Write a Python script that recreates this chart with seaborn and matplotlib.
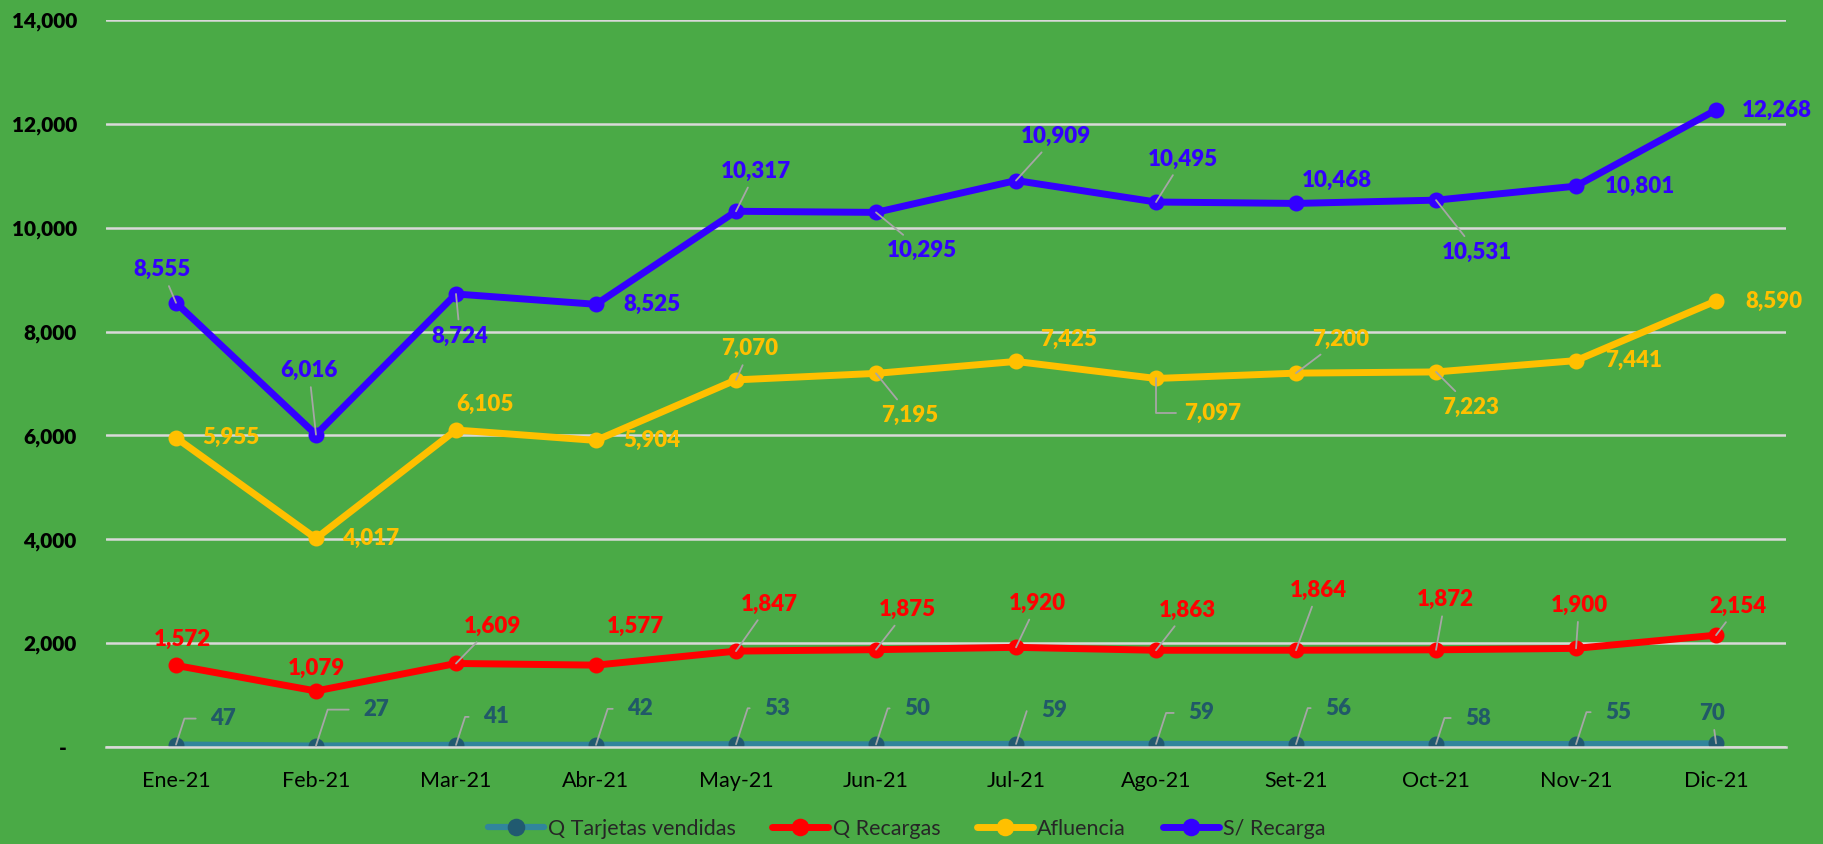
import matplotlib
matplotlib.use("Agg")
import matplotlib.pyplot as plt
import seaborn as sns
from matplotlib.ticker import FixedLocator, FuncFormatter

# Data
meses = ["Ene-21", "Feb-21", "Mar-21", "Abr-21", "May-21", "Jun-21",
         "Jul-21", "Ago-21", "Set-21", "Oct-21", "Nov-21", "Dic-21"]
tarjetas = [47, 27, 41, 42, 53, 50, 59, 59, 56, 58, 55, 70]
recargas = [1572, 1079, 1609, 1577, 1847, 1875, 1920, 1863, 1864, 1872, 1900, 2154]
afluencia = [5955, 4017, 6105, 5904, 7070, 7195, 7425, 7097, 7200, 7223, 7441, 8590]
soles = [8555, 6016, 8724, 8525, 10317, 10295, 10909, 10495, 10468, 10531, 10801, 12268]
nombres = ["Q Tarjetas vendidas", "Q Recargas", "Afluencia", "S/ Recarga"]

# label placement (screen pixels, y down) and leader style: 0 none, 1 straight, 2 elbow, 3 elbow down
off_tarj = [(47, -26), (60, -36), (40, -28), (44, -36), (41, -36), (41, -36),
            (38, -33), (45, -31), (42, -36), (42, -26), (42, -32), (-4, -30)]
lead_tarj = [2, 2, 2, 2, 2, 2, 2, 2, 2, 2, 2, 1]
off_rec = [(6, -26), (0, -23), (36, -37), (39, -39), (33, -47), (31, -40),
           (21, -44), (31, -40), (22, -60), (9, -50), (3, -43), (22, -29)]
lead_rec = [0, 0, 1, 0, 1, 1, 1, 1, 1, 1, 1, 1]
off_afl = [(55, 0), (55, 0), (29, -26), (56, 0), (14, -31), (34, 42),
           (53, -22), (57, 35), (45, -34), (35, 35), (58, 0), (58, 0)]
lead_afl = [0, 0, 0, 0, 1, 1, 0, 3, 1, 1, 0, 0]
off_sol = [(-14, -33), (-7, -64), (4, 42), (56, 0), (20, -40), (46, 38),
           (40, -44), (27, -43), (41, -23), (41, 52), (64, 0), (61, 0)]
lead_sol = [1, 1, 1, 0, 1, 1, 1, 1, 0, 1, 0, 0]

verde = "#4AAA46"
gris = "#D9D9D9"
sns.set_theme(style="white")
plt.rcParams["font.family"] = ["Lato", "DejaVu Sans"]

fig = plt.figure(figsize=(18.24, 8.44), dpi=100, facecolor=verde)
ax = fig.add_axes([0.0581, 0.1149, 0.9211, 0.8614])
ax.set_facecolor(verde)

series = [
    (tarjetas, "#31859C", "#215A70", "#215968", off_tarj, lead_tarj, 4.5),
    (recargas, "#FF0000", "#FF0000", "#FF0000", off_rec, lead_rec, 5),
    (afluencia, "#FFC000", "#FFC000", "#FFC000", off_afl, lead_afl, 5),
    (soles, "#3300FF", "#3300FF", "#3300FF", off_sol, lead_sol, 5),
]

for (vals, lc, mc, tc, offs, leads, lw), nombre in zip(series, nombres):
    sns.lineplot(x=meses, y=vals, ax=ax, color=lc, lw=lw, marker="o",
                 markersize=11.5, markerfacecolor=mc, markeredgecolor=mc,
                 markeredgewidth=0, label=nombre, sort=False)
    for i, v in enumerate(vals):
        dx, dy = offs[i]
        ap = None
        if leads[i] == 1:
            ap = dict(arrowstyle="-", color="#A6A6A6", lw=1.3, shrinkA=2, shrinkB=0)
        elif leads[i] == 2:
            ap = dict(arrowstyle="-", color="#A6A6A6", lw=1.3, shrinkA=8, shrinkB=0,
                      relpos=(0, 0.5), connectionstyle="angle,angleA=0,angleB=72,rad=0")
        elif leads[i] == 3:
            ap = dict(arrowstyle="-", color="#A6A6A6", lw=1.3, shrinkA=4, shrinkB=0,
                      relpos=(0, 0.5), connectionstyle="angle,angleA=0,angleB=90,rad=0")
        ax.annotate(f"{v:,}", xy=(i, v), xytext=(dx, -dy), textcoords="offset pixels",
                    ha="center", va="center", color=tc, fontsize=16,
                    fontweight="heavy", arrowprops=ap)

ax.set_ylim(0, 14000)
ax.set_xlim(-0.5, 11.5)
ax.set_yticks(range(0, 14001, 2000))
ax.yaxis.set_major_formatter(FuncFormatter(lambda v, p: "-  " if v == 0 else f"{v:,.0f}"))
ax.grid(False)
ax.yaxis.grid(True, color=gris, lw=1.8)
ax.set_axisbelow(True)
for s in ["top", "right", "left"]:
    ax.spines[s].set_visible(False)
ax.spines["bottom"].set_color(gris)
ax.spines["bottom"].set_linewidth(1.8)

ax.xaxis.set_minor_locator(FixedLocator([i - 0.5 for i in range(13)]))
ax.tick_params(axis="x", which="major", length=0, pad=17, labelsize=15.5, labelcolor="black")
ax.tick_params(axis="x", which="minor", length=5, width=1.3, color=gris, direction="out")
ax.tick_params(axis="y", length=0, pad=21, labelsize=15, labelcolor="black")
for t in ax.get_yticklabels():
    t.set_fontweight("heavy")
ax.set_xlabel("")
ax.set_ylabel("")

handles, labels = ax.get_legend_handles_labels()
ax.get_legend().remove()
fig.legend(handles, labels, loc="center", bbox_to_anchor=(0.497, 0.018), ncol=4,
           frameon=False, fontsize=15.5, handlelength=2.6, handletextpad=0.2,
           columnspacing=1.7, markerscale=1.1)

fig.savefig("out.png", dpi=100, facecolor=verde)
